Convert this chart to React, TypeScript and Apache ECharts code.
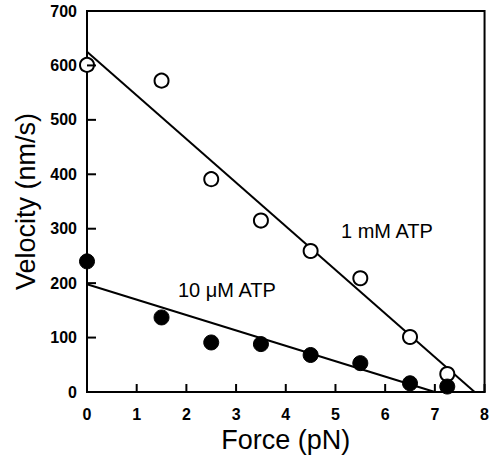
import React, { useEffect, useRef } from "react";
import * as echarts from "echarts";

const forceOpen = [0, 1.5, 2.5, 3.5, 4.5, 5.5, 6.5, 7.25];
const velOpen = [601, 572, 391, 315, 259, 209, 101, 33];
const forceFilled = [0, 1.5, 2.5, 3.5, 4.5, 5.5, 6.5, 7.25];
const velFilled = [240, 137, 91, 88, 68, 53, 16, 10];
const fit1mM = [[0, 625], [7.8, 0]];
const fit10uM = [[0, 198], [7.0, 0]];
const xTicks = [0, 1, 2, 3, 4, 5, 6, 7, 8];
const yTicks = [0, 100, 200, 300, 400, 500, 600, 700];

const FONT = "'Liberation Sans', Arial, Helvetica, sans-serif";

export default function App() {
  const ref = useRef<HTMLDivElement>(null);
  useEffect(() => {
    if (!ref.current) return;
    const chart = echarts.init(ref.current, undefined, { renderer: "svg" });
    chart.setOption({
      animation: false,
      backgroundColor: "#fff",
      grid: {
        left: 87, right: 5, top: 11, bottom: 71,
        show: true, borderColor: "#000", borderWidth: 2, backgroundColor: "transparent",
      },
      xAxis: {
        type: "value", min: xTicks[0], max: xTicks[xTicks.length - 1], interval: 1,
        name: "Force (pN)", nameLocation: "middle", nameGap: 33,
        nameTextStyle: { fontFamily: FONT, fontSize: 27, color: "#000" },
        axisLine: { show: true, onZero: false, lineStyle: { color: "#000", width: 2 } },
        axisTick: { show: false },
        axisLabel: { fontFamily: FONT, fontSize: 16, fontWeight: "bold", color: "#000", margin: 14 },
        splitLine: { show: false },
      },
      yAxis: {
        type: "value", min: yTicks[0], max: yTicks[yTicks.length - 1], interval: 100,
        name: "Velocity (nm/s)", nameLocation: "middle", nameGap: 48,
        nameTextStyle: { fontFamily: FONT, fontSize: 27, color: "#000" },
        axisLine: { show: true, onZero: false, lineStyle: { color: "#000", width: 2 } },
        axisTick: { show: false },
        axisLabel: { fontFamily: FONT, fontSize: 16, fontWeight: "bold", color: "#000", margin: 10 },
        splitLine: { show: false },
      },
      series: [
        {
          type: "custom", silent: true, clip: false, z: 5,
          data: xTicks.map((v) => [v, 0]),
          renderItem: (params: any, api: any) => {
            const p = api.coord([api.value(0), api.value(1)]);
            return {
              type: "line",
              shape: { x1: p[0], y1: p[1], x2: p[0], y2: p[1] - 8 },
              style: { stroke: "#000", lineWidth: 2 },
            };
          },
        },
        {
          type: "custom", silent: true, clip: false, z: 5,
          data: yTicks.map((v) => [0, v]),
          renderItem: (params: any, api: any) => {
            const p = api.coord([api.value(0), api.value(1)]);
            return {
              type: "line",
              shape: { x1: p[0], y1: p[1], x2: p[0] + 9, y2: p[1] },
              style: { stroke: "#000", lineWidth: 2 },
            };
          },
        },
        {
          type: "line", data: fit1mM, symbol: "none", silent: true,
          lineStyle: { color: "#000", width: 2 }, z: 2,
        },
        {
          type: "line", data: fit10uM, symbol: "none", silent: true,
          lineStyle: { color: "#000", width: 2 }, z: 2,
        },
        {
          type: "scatter", data: forceOpen.map((f, i) => [f, velOpen[i]]),
          symbol: "circle", symbolSize: 14, z: 3,
          itemStyle: { color: "#fff", borderColor: "#000", borderWidth: 2, opacity: 1 },
        },
        {
          type: "scatter", data: forceFilled.map((f, i) => [f, velFilled[i]]),
          symbol: "circle", symbolSize: 15, z: 3,
          itemStyle: { color: "#000", borderColor: "#000", borderWidth: 1, opacity: 1 },
        },
      ],
      graphic: [
        {
          type: "text", left: 341, top: 221,
          style: { text: "1 mM ATP", fontFamily: FONT, fontSize: 20, fill: "#000" },
        },
        {
          type: "text", left: 178, top: 280,
          style: { text: "10 \u03bcM ATP", fontFamily: FONT, fontSize: 20, fill: "#000" },
        },
      ],
    });
    return () => chart.dispose();
  }, []);
  return <div ref={ref} style={{ width: 492, height: 463, position: "absolute", left: 0, top: 0 }} />;
}
